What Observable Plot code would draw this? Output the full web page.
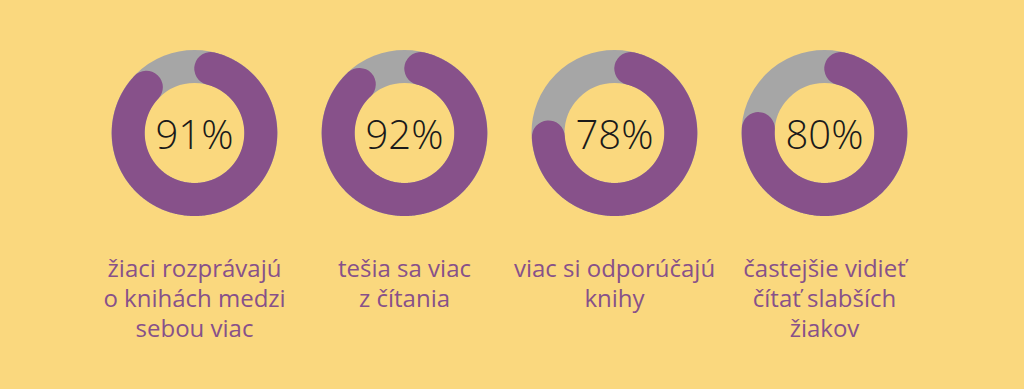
<!DOCTYPE html>
<html>
<head>
<meta charset="utf-8">
<script src="https://cdn.jsdelivr.net/npm/d3@7"></script>
<script src="https://cdn.jsdelivr.net/npm/@observablehq/plot@0.6"></script>
<style>
  html, body { margin: 0; padding: 0; background: #FAD87E; }
  #chart svg { display: block; background: #FAD87E; }
</style>
</head>
<body>
<div id="chart"></div>
<script>
// --- data ---
const labels = [
  "žiaci rozprávajú\no knihách medzi\nsebou viac",
  "tešia sa viac\nz čítania",
  "viac si odporúčajú\nknihy",
  "častejšie vidieť\nčítať slabších\nžiakov"
];
const values = [91, 92, 78, 80];

// --- styling constants ---
const purple = "#87518A";
const gray = "#A6A6A6";
const R = 66.5;          // mid radius of ring (px)
const ring = 33;         // ring thickness (px)
const width = 1024, height = 389;
const marginLeft = 87, marginRight = 94;
const bw = (width - marginLeft - marginRight) / labels.length;

const rows = labels.map((label, i) => ({label, value: values[i]}));

// arc geometry derived from each value (round caps included in the percentage)
const cap = (ring / 2) / R;
const arcPoints = rows.flatMap(d => {
  const a0 = cap, a1 = 2 * Math.PI * d.value / 100 - cap;
  const n = Math.ceil((a1 - a0) / (Math.PI / 360));
  return d3.range(n + 1).map(k => {
    const a = a0 + (a1 - a0) * k / n;
    return {label: d.label, x: R * Math.sin(a), y: R * Math.cos(a)};
  });
});

const centerY = 132.5;   // pixel row of donut centres
const labelTop = -123;   // label block top, in the centred y units

const chart = Plot.plot({
  width, height,
  marginLeft, marginRight, marginTop: 0, marginBottom: 0,
  style: {background: "#FAD87E", overflow: "visible"},
  fx: {domain: labels, padding: 0, axis: null},
  x: {domain: [-bw / 2, bw / 2], axis: null},
  y: {domain: [centerY - height, centerY], axis: null},
  marks: [
    Plot.dot(rows, {fx: "label", x: 0, y: 0, r: R, fill: "none", stroke: gray, strokeWidth: ring}),
    Plot.line(arcPoints, {fx: "label", x: "x", y: "y", z: "label", stroke: purple, strokeWidth: ring,
      strokeLinecap: "round", strokeLinejoin: "round", curve: "linear"}),
    Plot.text(rows, {fx: "label", x: 0, y: 0, text: d => `${d.value}%`, fontSize: 40, fontWeight: 300,
      fontFamily: "'Open Sans', sans-serif", fill: "#1a1a1a", dy: 3}),
    Plot.text(rows, {fx: "label", x: 0, y: labelTop, text: "label", lineAnchor: "top", fontSize: 24,
      lineHeight: 1.25, fontFamily: "'Open Sans', sans-serif", fill: purple})
  ]
});
document.getElementById("chart").append(chart);
</script>
</body>
</html>
